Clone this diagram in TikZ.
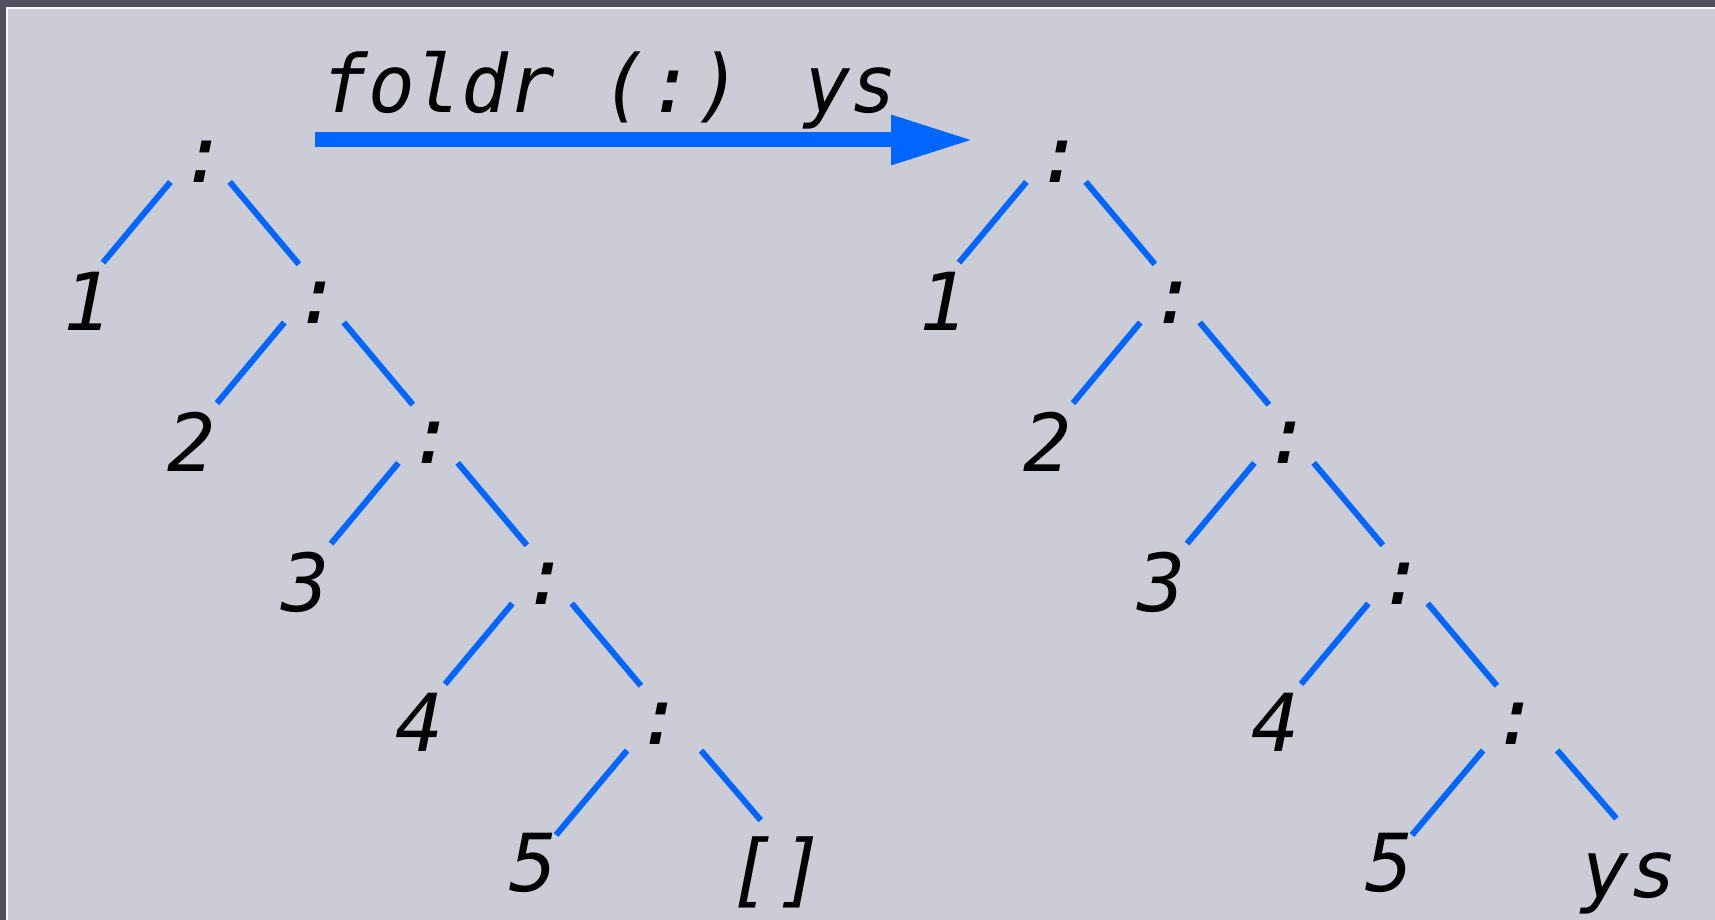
\documentclass[tikz,border=0pt]{standalone}
\usepackage{fontspec}
\newfontfamily\treefont{DejaVu Sans Mono}
\newfontfamily\titlefont{DejaVu Sans Mono}[FakeStretch=0.97]
\usetikzlibrary{arrows.meta}

\definecolor{panelgray}{HTML}{CBCCD5}
\definecolor{framegray}{HTML}{50505E}
\definecolor{consblue}{HTML}{0066FF}

\tikzset{
  cell/.style={font=\treefont\itshape\fontsize{40}{40}\selectfont, inner sep=0pt},
  fname/.style={font=\titlefont\itshape\fontsize{40}{40}\selectfont, inner sep=0pt, anchor=base west},
  branch/.style={draw=consblue, line width=3pt, shorten <=13pt, shorten >=25pt},
  flow/.style={draw=consblue, line width=7.5pt, -{Triangle[length=41.5pt,width=23pt]}},
}

\begin{document}
\begin{tikzpicture}[x=0.5pt,y=-0.5pt]
  % frame and panel
  \fill[framegray] (0,0) rectangle (1715,920);
  \fill[white!85!panelgray] (6,7) rectangle (1715,920);
  \fill[panelgray] (8,9) rectangle (1715,920);

  % title and arrow
  \node[fname] (fn) at (321,113) {foldr (:) ys};
  \coordinate (from) at (315,140);
  \coordinate (to) at (974,140);
  \draw[flow] (from) -- (to);

  % the list before (L) and after (R)
  \foreach \tr/\ox/\tail/\tx/\sx/\sy in {L/0/{[]}/777/14pt/0pt, R/856/ys/773.5/15.75pt/6.5pt}{
    \foreach \k in {0,...,4}{
      \pgfmathtruncatemacro\digit{\k+1}
      \pgfmathsetmacro\nudge{\k==0 ? 10 : 0}
      \pgfmathsetmacro\sa{\k==4 ? 17.3 : 13}
      \pgfmathsetmacro\sb{\k==4 ? 18.3 : 25}
      \pgfmathsetmacro\ls{\k==4 ? -5.85 : -9}
      \pgfmathsetmacro\le{\k==0 ? -8.5 : (\k==4 ? -0.75 : -3.5)}
      \node[cell] (c\tr\k) at (\ox+205+114*\k, 162+140.5*\k) {:};
      \node[cell] (n\tr\k) at (\ox+78+114*\k+\nudge, 301+140.5*\k) {\digit};
      \draw[branch, shorten <=\sa pt, shorten >=\sb pt]
        ([xshift=\ls pt]c\tr\k.center) -- ([xshift=\le pt]n\tr\k.center);
    }
    \foreach \k [evaluate=\k as \j using int(\k+1)] in {0,...,3}
      \draw[branch] ([xshift=4pt]c\tr\k.center) -- ([xshift=6pt]c\tr\j.center);
    \node[cell, anchor=base] (e\tr) at (\ox+\tx, 897) {\tail};
    \draw[branch, shorten <=17.5pt, shorten >=34pt]
      ([xshift=8.65pt]c\tr4.center) -- ([xshift=\sx, yshift=\sy]e\tr.center);
  }
\end{tikzpicture}
\end{document}
